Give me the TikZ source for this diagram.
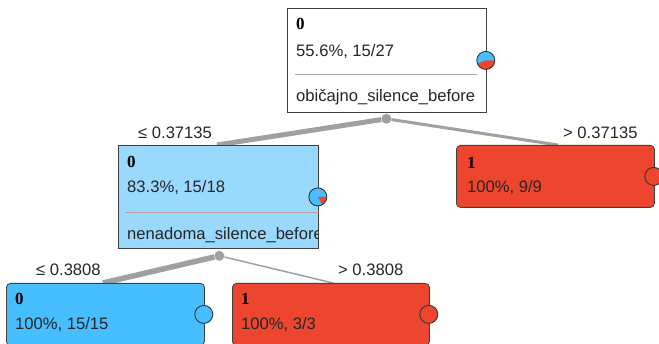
\documentclass[tikz,border=0pt]{standalone}
\usepackage{fontspec}
\setmainfont{Liberation Sans}
\newfontfamily\clsfont{Liberation Serif}
\usetikzlibrary{calc,backgrounds}

\definecolor{clsblue}{RGB}{70,190,255}
\definecolor{mixblue}{RGB}{152,217,253}
\definecolor{clsred}{RGB}{237,69,46}
\definecolor{edgegray}{RGB}{160,160,164}
\definecolor{rulegray}{RGB}{170,170,170}
\definecolor{rulemix}{RGB}{190,160,155}

\tikzset{
  splitbox/.style={draw=black!75,line width=0.8pt,inner sep=0pt,anchor=north west},
  leafbox/.style={splitbox,rounded corners=4pt},
  splitdot/.style={circle,fill=edgegray,inner sep=0pt,minimum size=10pt},
  treeedge/.style={edgegray,line cap=butt},
  clstext/.style={anchor=base west,inner sep=0pt,font=\clsfont\bfseries\fontsize{17}{17}\selectfont},
  infotext/.style={anchor=base west,inner sep=0pt,text=black!85,font=\fontsize{16.6}{17}\selectfont},
  piering/.style={draw=black!80,line width=0.9pt}
}

\begin{document}
\begin{tikzpicture}[x=1pt,y=-1pt]
  \useasboundingbox (0,0) rectangle (659,344);
  \clip (0,0) rectangle (659,344);

  % boxes
  \node[splitbox,fill=white,minimum width=199pt,minimum height=104pt] (root) at (287,8) {};
  \node[splitbox,fill=mixblue,minimum width=200pt,minimum height=103pt] (mid) at (118,145) {};
  \node[leafbox,fill=clsred,minimum width=198pt,minimum height=62pt] (right) at (456,145) {};
  \node[leafbox,fill=clsblue,minimum width=198pt,minimum height=62pt] (leftleaf) at (6,283) {};
  \node[leafbox,fill=clsred,minimum width=197pt,minimum height=62pt] (rightleaf) at (232,283) {};

  % split points
  \node[splitdot] (rootdot) at ($(root.south)+(-0.5,6)$) {};
  \node[splitdot] (middot) at ($(mid.south)+(1,7)$) {};
  \coordinate (midin) at ($(mid.north west)+(99,0)$);
  \coordinate (rightin) at ($(right.north west)+(102,0)$);
  \coordinate (leftleafin) at ($(leftleaf.north west)+(97,0)$);
  \coordinate (rightleafin) at ($(rightleaf.north west)+(101,0)$);

  \begin{scope}[on background layer]
    \draw[treeedge,line width=5pt] (rootdot) -- (midin);
    \draw[treeedge,line width=3pt] (rootdot) -- (rightin);
    \draw[treeedge,line width=5.5pt] (middot) -- (leftleafin);
    \draw[treeedge,line width=1.5pt] (middot) -- (rightleafin);
  \end{scope}

  % texts
  \node[clstext] (rootcls) at (296,30) {0};
  \node[infotext] (rootinfo) at (296,57) {55.6\%, 15/27};
  \draw[rulegray,line width=0.9pt] ($(root.north west)+(8,66.5)$) -- ($(root.north east)+(-10,66.5)$);
  \node[infotext] (rootattr) at (296,102) {običajno\_silence\_before};

  \node[clstext] (midcls) at (127,168) {0};
  \node[infotext] (midinfo) at (127,193) {83.3\%, 15/18};
  \begin{scope}
    \clip (mid.north west) rectangle (mid.south east);
    \draw[rulemix,line width=0.9pt] ($(mid.north west)+(7,67.5)$) -- ($(mid.north east)+(0,67.5)$);
    \node[infotext] (midattr) at (127,240) {nenadoma\_silence\_before};
  \end{scope}

  \node[clstext] (rightcls) at (467,169) {1};
  \node[infotext] (rightinfo) at (467,193) {100\%, 9/9};
  \node[clstext] (leftleafcls) at (15,305) {0};
  \node[infotext] (leftleafinfo) at (15,330) {100\%, 15/15};
  \node[clstext] (rightleafcls) at (241,305) {1};
  \node[infotext] (rightleafinfo) at (241,330) {100\%, 3/3};

  % thresholds
  \node[infotext] (midcond) at (138,139) {≤ 0.37135};
  \node[infotext] (rightcond) at (563,139) {> 0.37135};
  \node[infotext] (leftleafcond) at (36,276) {≤ 0.3808};
  \node[infotext] (rightleafcond) at (338,276) {> 0.3808};

  % class pies
  \foreach \bx/\ang in {root/160,mid/60,right/360,leftleaf/0,rightleaf/360} {
    \coordinate (\bx pie) at ($(\bx.east)+(-1,0)$);
    \fill[clsblue] (\bx pie) circle (9);
    \ifnum\ang>0
      \fill[clsred] (\bx pie) -- ++(9,0) arc[start angle=0,end angle=\ang,radius=9] -- cycle;
    \fi
    \draw[piering] (\bx pie) circle (9);
  }
\end{tikzpicture}
\end{document}
